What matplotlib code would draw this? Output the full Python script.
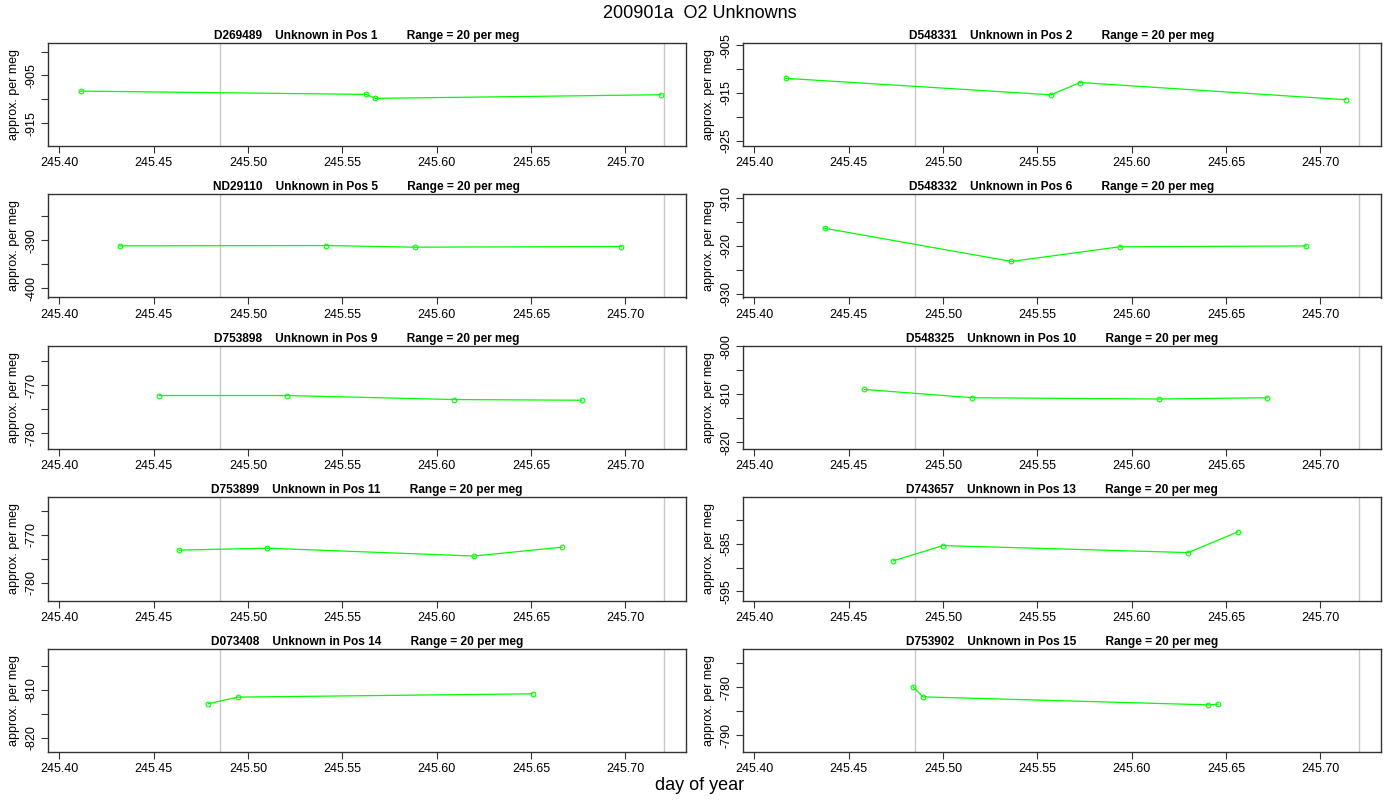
import matplotlib
matplotlib.use('Agg')
import math
import matplotlib.pyplot as plt
from matplotlib.ticker import MultipleLocator, FuncFormatter

plt.rcParams['font.family'] = ['Liberation Sans', 'DejaVu Sans']

main_title = "200901a  O2 Unknowns"
x_label = "day of year"
y_label = "approx. per meg"
range_per_meg = 20

# panels in reading order (row by row, left then right)
sample_ids = ["D269489", "D548331", "ND29110", "D548332", "D753898",
              "D548325", "D753899", "D743657", "D073408", "D753902"]
positions = [1, 2, 5, 6, 9, 10, 11, 13, 14, 15]

pos1_day = [245.4113, 245.5626, 245.5676, 245.7188]
pos1_val = [-908.27, -908.96, -909.79, -909.03]
pos2_day = [245.4167, 245.5572, 245.5727, 245.7135]
pos2_val = [-911.95, -915.40, -912.83, -916.42]
pos5_day = [245.4321, 245.5416, 245.5883, 245.6978]
pos5_val = [-391.18, -391.11, -391.46, -391.32]
pos6_day = [245.4373, 245.5363, 245.5936, 245.6926]
pos6_val = [-916.32, -923.26, -920.20, -920.02]
pos9_day = [245.4531, 245.5208, 245.6091, 245.6768]
pos9_val = [-772.15, -772.15, -772.99, -773.13]
pos10_day = [245.4583, 245.5156, 245.6146, 245.6719]
pos10_val = [-808.99, -810.73, -811.00, -810.73]
pos11_day = [245.4635, 245.5102, 245.6197, 245.6665]
pos11_val = [-773.22, -772.81, -774.45, -772.60]
pos13_day = [245.4737, 245.4999, 245.6300, 245.6562]
pos13_val = [-588.61, -585.42, -586.88, -582.57]
pos14_day = [245.4791, 245.4946, 245.6509]
pos14_val = [-812.90, -811.52, -810.83]
pos15_day = [245.4842, 245.4894, 245.6405, 245.6457]
pos15_val = [-779.93, -782.01, -783.68, -783.54]

panel_days = [pos1_day, pos2_day, pos5_day, pos6_day, pos9_day,
              pos10_day, pos11_day, pos13_day, pos14_day, pos15_day]
panel_vals = [pos1_val, pos2_val, pos5_val, pos6_val, pos9_val,
              pos10_val, pos11_val, pos13_val, pos14_val, pos15_val]
# centre of the 20 per meg window of each panel
panel_centres = [-908.95, -915.3, -391.18, -920.0, -772.53,
                 -810.65, -772.95, -586.1, -812.2, -782.74]

marker_days = [245.4853, 245.7206]
x_limits = (245.3939, 245.7320)
x_tick_step = 0.05
y_tick_step = 5

W, H = 1400, 800
fig = plt.figure(figsize=(W / 100, H / 100), dpi=100)

col_left = [47.7, 742.7]
box_w = 638.0
box_h = 103.3
row_top = [42.7 + 151.5 * k for k in range(5)]

for i in range(10):
    r, c = divmod(i, 2)
    x0 = col_left[c] / W
    y0 = 1 - (row_top[r] + box_h) / H
    ax = fig.add_axes([x0, y0, box_w / W, box_h / H])

    for d in marker_days:
        ax.axvline(d, color='#c8c8c8', lw=1.0, zorder=1)

    ax.plot(panel_days[i], panel_vals[i], color='#00ff00', lw=0.9,
            marker='o', markersize=3.4, markerfacecolor='none',
            markeredgecolor='#00ff00', markeredgewidth=0.8, zorder=3)

    half = range_per_meg / 2 * 1.08
    ymin, ymax = panel_centres[i] - half, panel_centres[i] + half
    ax.set_xlim(*x_limits)
    ax.set_ylim(ymin, ymax)

    ax.xaxis.set_major_locator(MultipleLocator(x_tick_step))
    ax.xaxis.set_major_formatter(FuncFormatter(lambda v, p: f"{v:.2f}"))
    ax.yaxis.set_major_locator(MultipleLocator(y_tick_step))
    lowest = math.ceil(ymin / y_tick_step) * y_tick_step

    def yfmt(v, p, lowest=lowest):
        k = int(round((v - lowest) / y_tick_step))
        return f"{int(round(v))}" if k % 2 == 0 else ""
    ax.yaxis.set_major_formatter(FuncFormatter(yfmt))

    ax.tick_params(axis='both', direction='out', length=5, width=0.8,
                   color='#333333', labelsize=9, pad=3)
    ax.tick_params(axis='y', labelrotation=90, pad=2.5)
    for lab in ax.get_yticklabels():
        lab.set_va('center')

    for sp in ax.spines.values():
        sp.set_color('#333333')
        sp.set_linewidth(1.0)

    ax.set_title(f"{sample_ids[i]}    Unknown in Pos {positions[i]}         "
                 f"Range = {range_per_meg} per meg",
                 fontsize=8.6, fontweight='bold', pad=3)
    ax.set_ylabel(y_label, fontsize=9, va='center')
    ax.yaxis.set_label_coords(-33.5 / box_w, 0.5)

fig.text(0.5, 1 - 13 / H, main_title, ha='center', va='center', fontsize=13)
fig.text(0.5, 1 - 785 / H, x_label, ha='center', va='center', fontsize=13)

fig.savefig('out.png', dpi=100)
